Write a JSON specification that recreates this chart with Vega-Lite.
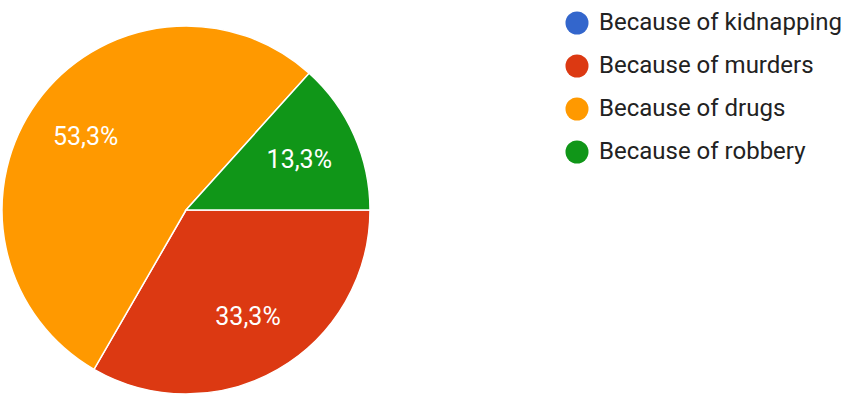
{
  "$schema": "https://vega.github.io/schema/vega-lite/v6.json",
  "width": 372,
  "height": 420,
  "padding": {"left": 0, "top": 0, "right": 477, "bottom": 0},
  "autosize": "none",
  "background": "white",
  "config": {"view": {"stroke": null}, "font": "Roboto"},
  "data": {
    "values": [
      {"answer": "Because of kidnapping", "count": 0, "ord": 0, "label": ""},
      {"answer": "Because of murders", "count": 5, "ord": 1, "label": "33,3%"},
      {"answer": "Because of drugs", "count": 8, "ord": 2, "label": "53,3%"},
      {"answer": "Because of robbery", "count": 2, "ord": 3, "label": "13,3%"}
    ]
  },
  "encoding": {
    "theta": {"field": "count", "type": "quantitative", "stack": true, "scale": {"range": [1.5708, 7.854]}},
    "order": {"field": "ord", "type": "quantitative"}
  },
  "layer": [
    {
      "mark": {"type": "arc", "outerRadius": 184, "stroke": "white", "strokeWidth": 1.5},
      "encoding": {
        "color": {
          "field": "answer",
          "type": "nominal",
          "scale": {
            "domain": ["Because of kidnapping", "Because of murders", "Because of drugs", "Because of robbery"],
            "range": ["#3366cc", "#dc3912", "#ff9900", "#109618"]
          },
          "legend": {
            "title": null,
            "orient": "none",
            "legendX": 565,
            "legendY": 11,
            "symbolType": "circle",
            "symbolSize": 530,
            "symbolStrokeWidth": 0,
            "labelFontSize": 24,
            "labelColor": "#222222",
            "labelFont": "Roboto",
            "rowPadding": 19,
            "labelOffset": 10,
            "labelLimit": 400
          }
        }
      }
    },
    {
      "mark": {"type": "text", "radius": 124, "fontSize": 25, "font": "Roboto", "color": "white"},
      "encoding": {"text": {"field": "label", "type": "nominal"}}
    }
  ]
}
